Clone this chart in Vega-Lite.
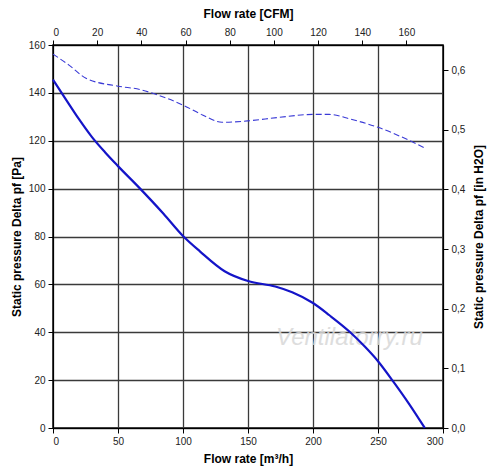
{
  "$schema": "https://vega.github.io/schema/vega-lite/v6.json",
  "width": 390,
  "height": 383,
  "autosize": {"type": "none"},
  "padding": {"left": 53, "top": 45, "right": 57, "bottom": 45},
  "background": "white",
  "config": {
    "font": "Liberation Sans",
    "view": {"stroke": "black", "strokeWidth": 1.5},
    "axis": {
      "labelFont": "Liberation Sans",
      "labelFontSize": 10,
      "labelColor": "#222",
      "titleFont": "Liberation Sans",
      "titleFontSize": 12,
      "titleFontWeight": "bold",
      "titleColor": "black",
      "domainColor": "black",
      "tickColor": "black",
      "tickSize": 5,
      "labelPadding": 3
    }
  },
  "layer": [
    {
      "encoding": {
        "x": {"field": "q", "type": "quantitative", "scale": {"domain": [0, 300], "nice": false},
          "axis": {"orient": "bottom", "title": "Flow rate [m³/h]", "values": [0, 50, 100, 150, 200, 250, 300], "grid": true, "gridColor": "#3a3a3a", "gridOpacity": 1, "gridWidth": 1.3, "titlePadding": 7}},
        "y": {"field": "p", "type": "quantitative", "scale": {"domain": [0, 160], "nice": false},
          "axis": {"orient": "left", "title": "Static pressure Delta pf [Pa]", "values": [0, 20, 40, 60, 80, 100, 120, 140, 160], "grid": true, "gridColor": "#3a3a3a", "gridOpacity": 1, "gridWidth": 1.3, "titlePadding": 5}}
      },
      "layer": [
        {
          "data": {"values": [
            {"q": 228, "p": 37.5, "t": "Ventilatorry.ru"}
          ]},
          "mark": {"type": "text", "font": "Liberation Sans", "fontSize": 24, "fontStyle": "italic", "color": "#d8d8d8", "opacity": 0.85},
          "encoding": {"text": {"field": "t"}}
        },
        {
          "data": {"values": [
            {"q": 0, "p": 145.5},
            {"q": 10, "p": 137.2},
            {"q": 20, "p": 129},
            {"q": 30, "p": 121.5},
            {"q": 40, "p": 115.2},
            {"q": 50, "p": 109.4},
            {"q": 67, "p": 100},
            {"q": 85, "p": 89.5},
            {"q": 100, "p": 80.2},
            {"q": 113, "p": 73.8},
            {"q": 132, "p": 65.5},
            {"q": 150, "p": 61.4},
            {"q": 171, "p": 59.1},
            {"q": 184, "p": 56.7},
            {"q": 200, "p": 52.2},
            {"q": 212.6, "p": 47.1},
            {"q": 228.2, "p": 40.2},
            {"q": 240, "p": 33.9},
            {"q": 250, "p": 27.9},
            {"q": 261.5, "p": 19.6},
            {"q": 274, "p": 10},
            {"q": 286, "p": 0}
          ]},
          "mark": {"type": "line", "color": "#1414c8", "strokeWidth": 2.2, "interpolate": "monotone"}
        },
        {
          "data": {"values": [
            {"q": 0, "p": 156.2},
            {"q": 12.3, "p": 151.6},
            {"q": 25.4, "p": 146.1},
            {"q": 50, "p": 142.8},
            {"q": 67, "p": 141.4},
            {"q": 78.5, "p": 139.5},
            {"q": 100, "p": 134.9},
            {"q": 115, "p": 130.8},
            {"q": 130, "p": 127.7},
            {"q": 150, "p": 128.3},
            {"q": 173, "p": 129.7},
            {"q": 200, "p": 131},
            {"q": 212.4, "p": 131},
            {"q": 229, "p": 129},
            {"q": 250, "p": 125.6},
            {"q": 273, "p": 120.4},
            {"q": 286, "p": 117}
          ]},
          "mark": {"type": "line", "color": "#3a3ad6", "strokeWidth": 1.1, "strokeDash": [6, 3], "interpolate": "monotone"}
        }
      ]
    },
    {
      "data": {"values": [{"cfm": 0, "inh2o": 0}]},
      "mark": {"type": "point", "opacity": 0},
      "encoding": {
        "x": {"field": "cfm", "type": "quantitative", "scale": {"domain": [0, 176.57], "nice": false},
          "axis": {"orient": "top", "title": "Flow rate [CFM]", "values": [0, 20, 40, 60, 80, 100, 120, 140, 160], "grid": false, "titlePadding": 7}},
        "y": {"field": "inh2o", "type": "quantitative", "scale": {"domain": [0, 0.64234], "nice": false},
          "axis": {"orient": "right", "title": "Static pressure Delta pf [in H2O]", "values": [0, 0.1, 0.2, 0.3, 0.4, 0.5, 0.6], "labelExpr": "replace(datum.label, '.', ',')", "grid": false, "titleAngle": 270, "titlePadding": 21}}
      }
    }
  ],
  "resolve": {"scale": {"x": "independent", "y": "independent"}}
}
